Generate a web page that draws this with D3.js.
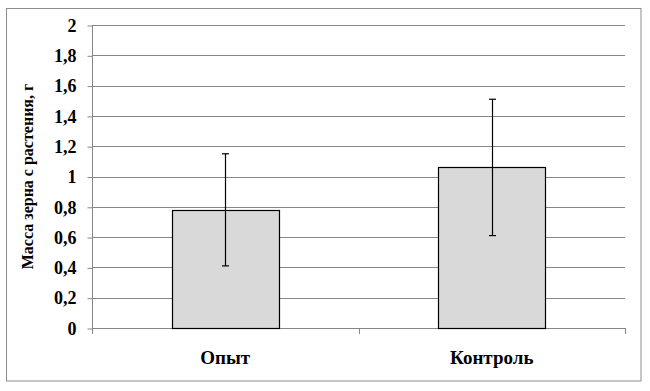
<!DOCTYPE html>
<html><head><meta charset="utf-8">
<script src="https://cdn.jsdelivr.net/npm/d3@7"></script>
<style>body{margin:0;background:#fff}svg{display:block}</style>
</head><body>
<script>
const categories = ["Опыт", "Контроль"];
const values = [0.78, 1.06];
const errors = [0.37, 0.45];
const yTicks = [0, 0.2, 0.4, 0.6, 0.8, 1, 1.2, 1.4, 1.6, 1.8, 2];
const yLabel = "Масса зерна с растения, г";

const W = 650, H = 391;
const m = {left: 92, right: 25, top: 25, bottom: 63};
const FONT = s => `font-family:'Liberation Serif','Times New Roman',serif;font-weight:700;font-size:${s}px;fill:#000`;
const svg = d3.select("body").append("svg").attr("width", W).attr("height", H);
svg.append("rect").attr("x", 6.5).attr("y", 8.5).attr("width", 634.5).attr("height", 372.5)
  .attr("fill", "#fff").attr("stroke", "#8c8c8c").attr("stroke-width", 1);

const x = d3.scaleBand().domain(categories).range([m.left, W - m.right]).paddingInner(0).paddingOuter(0);
const y = d3.scaleLinear().domain([0, 2]).range([H - m.bottom, m.top]);

// gridlines
svg.append("g").selectAll("line").data(yTicks).join("line")
  .attr("x1", m.left).attr("x2", W - m.right)
  .attr("y1", d => Math.round(y(d)) + 0.5).attr("y2", d => Math.round(y(d)) + 0.5)
  .attr("stroke", "#868686").attr("stroke-width", 1);

// y axis
const yAxis = d3.axisLeft(y).tickValues(yTicks).tickSize(5).tickPadding(11)
  .tickFormat(d => d3.format("~g")(d).replace(".", ","));
const ga = svg.append("g").attr("transform", `translate(${m.left + 0.5},0.5)`).call(yAxis);
ga.attr("font-family", null).attr("font-size", null);
ga.select(".domain").remove();
ga.selectAll(".tick line").attr("stroke", "#868686");
ga.selectAll("text").attr("fill", null).attr("style", FONT(18));
svg.append("line").attr("x1", m.left + 0.5).attr("x2", m.left + 0.5)
  .attr("y1", m.top).attr("y2", H - m.bottom + 6).attr("stroke", "#868686");

// category ticks
const catTicks = [m.left, m.left + x.bandwidth(), W - m.right];
svg.append("g").selectAll("line").data(catTicks).join("line")
  .attr("x1", d => Math.round(d) + 0.5).attr("x2", d => Math.round(d) + 0.5)
  .attr("y1", y(0)).attr("y2", y(0) + 6).attr("stroke", "#868686");

// bars
const bw = x.bandwidth() * 0.4;
svg.append("g").selectAll("rect").data(categories).join("rect")
  .attr("x", d => Math.round(x(d) + x.bandwidth() / 2 - bw / 2) + 0.5)
  .attr("width", Math.round(bw))
  .attr("y", (d, i) => Math.round(y(values[i])) + 0.5)
  .attr("height", (d, i) => Math.round(y(0)) - Math.round(y(values[i])))
  .attr("fill", "#d9d9d9").attr("stroke", "#000").attr("stroke-width", 1.2);

// error bars
const eb = svg.append("g").attr("stroke", "#000").attr("stroke-width", 1.2);
categories.forEach((c, i) => {
  const cx = Math.round(x(c) + x.bandwidth() / 2) + 0.5;
  const top = y(values[i] + errors[i]), bot = y(values[i] - errors[i]);
  eb.append("line").attr("x1", cx).attr("x2", cx).attr("y1", top).attr("y2", bot);
  eb.append("line").attr("x1", cx - 3.5).attr("x2", cx + 3.5).attr("y1", top).attr("y2", top);
  eb.append("line").attr("x1", cx - 3.5).attr("x2", cx + 3.5).attr("y1", bot).attr("y2", bot);
});

// category labels
svg.append("g").selectAll("text").data(categories).join("text")
  .attr("x", d => x(d) + x.bandwidth() / 2).attr("y", 364)
  .attr("text-anchor", "middle").attr("style", FONT(19)).text(d => d);

// y label
svg.append("text").attr("transform", `translate(33,${(m.top + H - m.bottom) / 2}) rotate(-90)`)
  .attr("text-anchor", "middle").attr("style", FONT(16)).text(yLabel);
</script>
</body></html>
